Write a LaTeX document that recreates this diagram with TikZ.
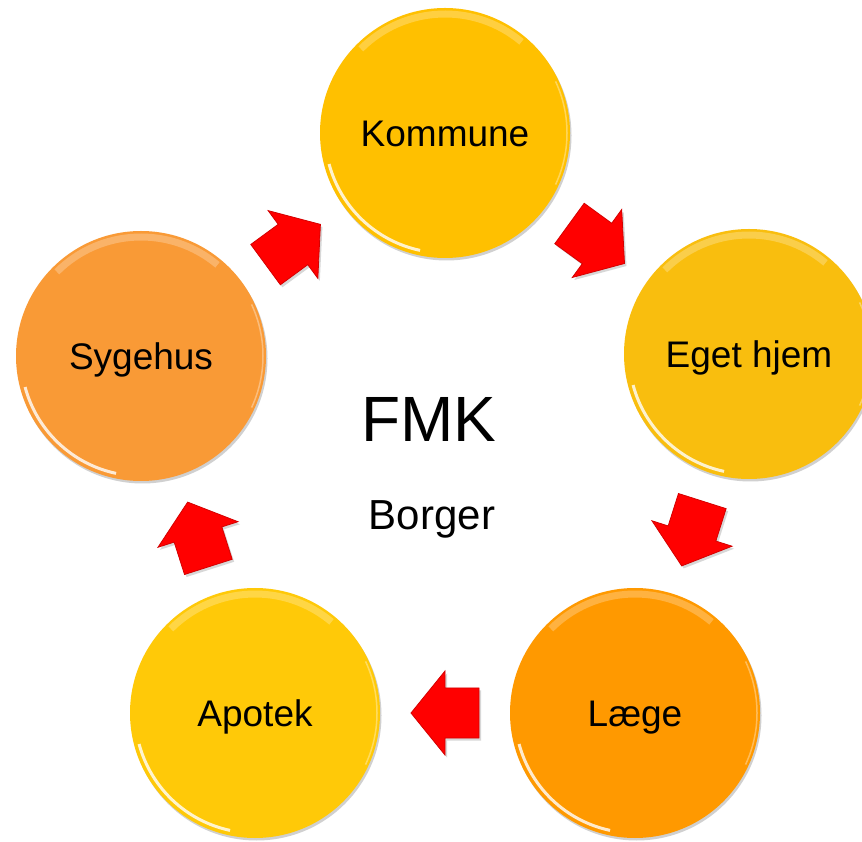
\documentclass[tikz,border=0pt]{standalone}
\usepackage{fontspec}
\setmainfont{Liberation Sans}
\usetikzlibrary{shadows,calc}
\definecolor{cKom}{HTML}{FFC000}
\definecolor{cEget}{HTML}{F9BE0E}
\definecolor{cLaege}{HTML}{FF9900}
\definecolor{cApo}{HTML}{FFC908}
\definecolor{cSyg}{HTML}{F99A36}
\definecolor{arrowred}{HTML}{FF0000}
\definecolor{arrowdark}{HTML}{D40000}
\begin{document}
\begin{tikzpicture}[x=1pt,y=1pt,
  bubble/.style={circle, minimum size=250pt, inner sep=0pt,
    text height=26.5pt, text depth=0pt,
    font=\fontsize{37}{40}\selectfont, fill=#1,
    drop shadow={shadow xshift=1.5pt, shadow yshift=-2.5pt, opacity=0.3, fill=black!60},
    path picture={
      \draw[white, opacity=0.25, line width=7pt]
        ([shift={(50:119)}]path picture bounding box.center) arc[start angle=50, end angle=135, radius=119];
      \draw[white, opacity=0.8, line width=3pt]
        ([shift={(195:120)}]path picture bounding box.center) arc[start angle=195, end angle=258, radius=120];
      \draw[white, opacity=0.35, line width=1.5pt]
        ([shift={(-25:122)}]path picture bounding box.center) arc[start angle=-25, end angle=25, radius=122];
    }},
  bigtext/.style={font=\fontsize{#1}{#1}\selectfont, inner sep=0pt, anchor=base},
  blockarrow/.pic={
    \filldraw[fill=arrowred, draw=arrowdark, line width=0.8pt, line join=miter,
      drop shadow={shadow xshift=2pt, shadow yshift=-2.5pt, opacity=0.22, fill=black!70}]
      (34,0) -- (0,42) -- (0,25) -- (-34,25) -- (-34,-25) -- (0,-25) -- (0,-42) -- cycle;
  }]
\useasboundingbox (0,0) rectangle (862,841);
\fill[white] (0,0) rectangle (862,841);

\node[bubble=cKom]   (kom)  at (445,708) {Kommune};
\node[bubble=cEget]  (eget) at (749,487) {Eget hjem};
\node[bubble=cLaege] (laege) at (635,128) {Læge};
\node[bubble=cApo]   (apo)  at (255,128) {Apotek};
\node[bubble=cSyg]   (syg)  at (141,485) {Sygehus};

\node[bigtext=64] (fmk) at (429,399) {FMK};
\node[bigtext=42] (borger) at (432,311) {Borger};

\path (syg.center) -- (kom.center) pic[pos=0.5, sloped, allow upside down] {blockarrow};
\path (kom.center) -- (eget.center) pic[pos=0.5, sloped, allow upside down] {blockarrow};
\path (eget.center) -- (laege.center) pic[pos=0.5, sloped, allow upside down] {blockarrow};
\path (laege.center) -- (apo.center) pic[pos=0.5, sloped, allow upside down] {blockarrow};
\path (apo.center) -- (syg.center) pic[pos=0.5, sloped, allow upside down] {blockarrow};
\end{tikzpicture}
\end{document}
